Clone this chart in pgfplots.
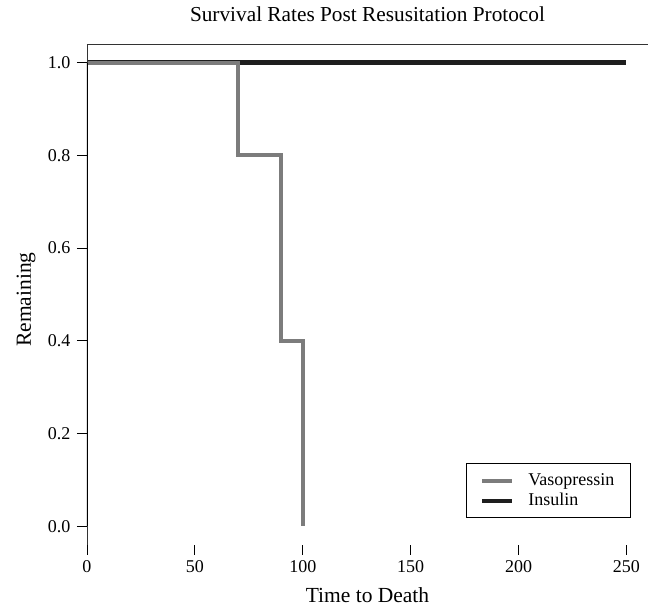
\documentclass[border=0pt]{standalone}
\usepackage{pgfplots}
\pgfplotsset{compat=1.18}
\usepackage{fontspec}
\setmainfont{Liberation Serif}
\usetikzlibrary{calc}

\definecolor{vaso}{HTML}{7C7C7C}
\definecolor{insu}{HTML}{1E1E1E}

\begin{document}
\begin{tikzpicture}
\begin{axis}[
    name=ax,
    scale only axis,
    width=561pt,
    height=501pt,
    xmin=0, xmax=260,
    ymin=-0.04, ymax=1.04,
    xtick={0,50,100,150,200,250},
    ytick={0,0.2,0.4,0.6,0.8,1.0},
    xtick pos=bottom,
    ytick pos=left,
    tick align=outside,
    major tick length=10pt,
    tick style={black, line width=0.8pt},
    axis line style={draw=none},
    /pgf/number format/assume math mode=true,
    ticklabel style={font=\fontsize{18}{20}\selectfont},
    xticklabel style={yshift=-2pt},
    yticklabel style={xshift=-3pt, /pgf/number format/.cd, fixed, fixed zerofill, precision=1},
    title={Survival Rates Post Resusitation Protocol},
    title style={at={(axis description cs:0.5,1)}, anchor=base, yshift=16pt,
        font=\fontsize{21.3}{24}\selectfont},
    xlabel={Time to Death},
    xlabel style={at={(axis description cs:0.5,0)}, anchor=base, yshift=-58pt,
        font=\fontsize{21.5}{24}\selectfont},
    ylabel={Remaining},
    ylabel style={at={(axis description cs:-0.1087,0.49)}, anchor=center, rotate=0,
        font=\fontsize{21.5}{24}\selectfont},
    legend cell align=left,
    legend style={at={(axis cs:252,0.018)}, anchor=south east,
        draw=black, line width=0.8pt,
        inner xsep=14pt, inner ysep=7pt, row sep=0pt,
        font=\fontsize{18}{20}\selectfont,
        nodes={inner sep=2pt, text height=13pt, text depth=3pt}},
    legend image code/.code={
        \draw[#1, line width=4pt] (0pt,0pt) -- (30pt,0pt);
        \path[draw=none] (30pt,0pt) -- (44pt,0pt);
    },
]
% Insulin, all animals survived
\addplot[insu, line width=4.5pt, forget plot] coordinates {
(0,1) (250,1)
};
% Vasopressin, step survival curve
\addplot[vaso, line width=4pt, line join=miter] coordinates {
(0,1) (70,1) (70,0.8) (90,0.8) (90,0.4) (100,0.4) (100,0)
};
\addlegendentry{Vasopressin}
\addlegendimage{insu, line width=4pt}
\addlegendentry{Insulin}

\draw[black!80, line width=0.8pt] (rel axis cs:0,0) -- (rel axis cs:1,0);
\draw[black!80, line width=0.8pt] (rel axis cs:0,1) -- (rel axis cs:1,1);
\draw[black!80, line width=0.8pt] (rel axis cs:0,0) -- (rel axis cs:0,1);
\draw[black, line width=1.6pt] (axis cs:0,0) -- (axis cs:0,1);
\end{axis}
\pgfresetboundingbox
\path[use as bounding box] ($(ax.south west)+(-87pt,-62pt)$) rectangle ($(ax.north east)+(0pt,44pt)$);
\end{tikzpicture}
\end{document}
